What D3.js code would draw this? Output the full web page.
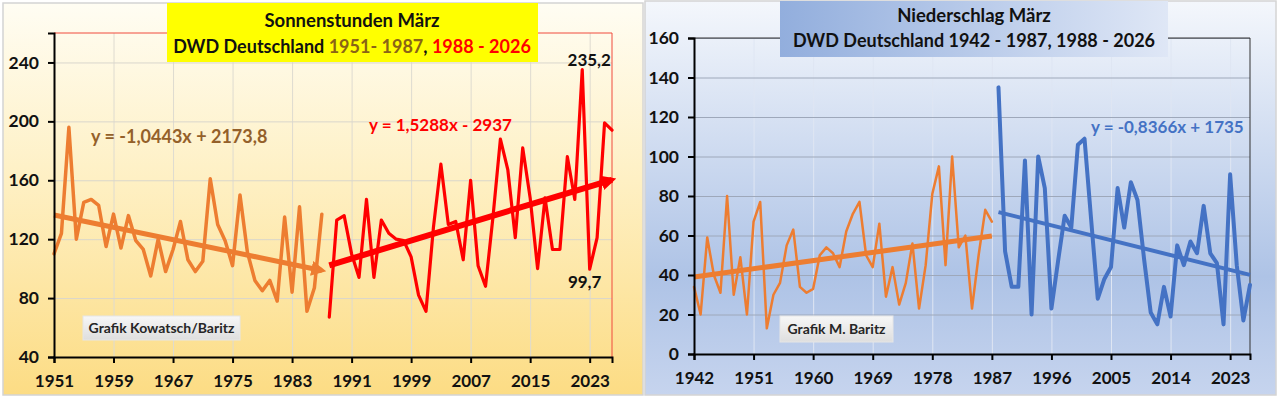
<!DOCTYPE html>
<html>
<head>
<meta charset="utf-8">
<script src="https://cdn.jsdelivr.net/npm/d3@7"></script>
<style>
  body { margin: 0; background: #fff; }
  svg { display: block; font-family: Lato, "Open Sans", sans-serif; font-weight: bold; }
</style>
</head>
<body>
<svg id="chart" width="1280" height="398"></svg>
<script>
// Sonnenstunden März (Stunden), DWD Deutschland
const sunYearsOld = d3.range(1951, 1988);
const sunOld = [110, 124, 196, 120, 145, 147, 143, 115, 137, 114, 136, 119, 113, 95, 120, 98, 113, 132, 106, 98,
  105, 161, 130, 119, 102, 150, 111, 92, 85, 92, 78, 135, 84, 142, 71, 87, 137];
const sunYearsNew = d3.range(1988, 2027);
const sunNew = [67, 133, 136, 110, 94, 147, 94, 133, 124, 120, 119, 108, 82, 71, 128, 171, 130, 132, 106, 160,
  102, 88, 135, 188, 167, 121, 182, 148, 100, 148, 113, 113, 176, 147, 235.2, 99.7, 121, 199, 194];

// Niederschlag März (l/m²), DWD Deutschland
const rainYearsOld = d3.range(1942, 1988);
const rainOld = [34, 20, 59, 40, 31, 80, 30, 49, 20, 67, 77, 13, 30, 36, 55, 63, 34, 31, 33, 50,
  54, 51, 44, 62, 71, 77, 50, 44, 66, 29, 44, 25, 36, 56, 23, 45, 81, 95, 45, 100,
  54, 60, 23, 50, 73, 67];
const rainYearsNew = d3.range(1988, 2027);
const rainNew = [135, 52, 34, 34, 98, 20, 100, 84, 23, 47, 70, 64, 106, 109, 68, 28, 38, 44, 84, 64,
  87, 78, 48, 21, 15, 34, 19, 55, 45, 57, 51, 75, 51, 46, 15, 91, 45, 17, 35];

// trend lines: [slope, intercept]
const sunTrendOld = [-1.0443, 2173.8];
const sunTrendNew = [1.5288, -2937];
const rainTrendOld = [0.46, -854.3];
const rainTrendNew = [-0.8366, 1735];

// axis ticks
const sunXTicks = [1951, 1959, 1967, 1975, 1983, 1991, 1999, 2007, 2015, 2023];
const sunYTicks = [40, 80, 120, 160, 200, 240];
const rainXTicks = [1942, 1951, 1960, 1969, 1978, 1987, 1996, 2005, 2014, 2023];
const rainYTicks = [0, 20, 40, 60, 80, 100, 120, 140, 160];

const svg = d3.select("#chart");
const defs = svg.append("defs");

function gradient(id, stops, horizontal) {
  const gr = defs.append("linearGradient").attr("id", id)
    .attr("x1", 0).attr("y1", 0)
    .attr("x2", horizontal ? 1 : 0).attr("y2", horizontal ? 0 : 1);
  stops.forEach(s => gr.append("stop").attr("offset", s[0]).attr("stop-color", s[1]));
}
gradient("bgSun", [[0, "#fffdf3"], [0.45, "#fef0c4"], [1, "#fcdc84"]]);
gradient("bgRain", [[0, "#f4f7fc"], [0.7, "#aec3e6"], [1, "#c6d4ee"]]);
gradient("titleRain", [[0, "#92aedd"], [1, "#dfe7f6"]], true);
gradient("creditBox", [[0, "#f7f7f7"], [1, "#dedede"]]);

function arrow(id, color) {
  defs.append("marker").attr("id", id)
    .attr("viewBox", "0 0 10 10").attr("refX", 7).attr("refY", 5)
    .attr("markerUnits", "userSpaceOnUse")
    .attr("markerWidth", 15).attr("markerHeight", 15)
    .attr("orient", "auto")
    .append("path").attr("d", "M0,0 L10,5 L0,10 z").attr("fill", color);
}
arrow("arrowOrange", "#ed7d31");
arrow("arrowRed", "#ff0000");

function drawPanel(p) {
  const g = svg.append("g");
  g.append("rect")
    .attr("x", p.box[0]).attr("y", p.box[1]).attr("width", p.box[2]).attr("height", p.box[3])
    .attr("fill", p.bg).attr("stroke", "#d4d4d4").attr("stroke-width", 1.5);

  const x = d3.scaleLinear().domain(p.xDomain).range([p.plot.left, p.plot.right]);
  const y = d3.scaleLinear().domain(p.yDomain).range([p.plot.bottom, p.plot.top]);
  const w = p.plot.right - p.plot.left;
  const h = p.plot.bottom - p.plot.top;

  // gridlines
  g.append("g").attr("transform", `translate(0,${p.plot.bottom})`)
    .call(d3.axisBottom(x).tickValues(p.xTicks.slice(1)).tickSize(-h).tickFormat(""))
    .call(a => a.select(".domain").remove())
    .selectAll("line").attr("stroke", p.vGrid).attr("stroke-width", 1);
  g.append("g").attr("transform", `translate(${p.plot.left},0)`)
    .call(d3.axisLeft(y).tickValues(p.yTicks.slice(1)).tickSize(-w).tickFormat(""))
    .call(a => a.select(".domain").remove())
    .selectAll("line").attr("stroke", p.hGrid).attr("stroke-width", 1);

  // top / right frame
  g.append("path")
    .attr("d", `M${p.plot.left},${p.plot.top}H${p.plot.right}V${p.plot.bottom}`)
    .attr("fill", "none").attr("stroke", p.frame).attr("stroke-width", 1);

  return { g, x, y };
}

function styleAxis(a, size) {
  a.select(".domain").attr("stroke", "#000").attr("stroke-width", 2);
  a.selectAll(".tick line").attr("stroke", "#000").attr("stroke-width", 2);
  a.selectAll("text").attr("fill", "#111").style("font-size", size + "px")
    .style("font-family", "Lato, sans-serif").style("font-weight", "bold");
}

function drawAxes(panel, p) {
  const { g, x, y } = panel;
  g.append("g").attr("transform", `translate(0,${p.plot.bottom})`)
    .call(d3.axisBottom(x).tickValues(p.xTicks).tickSize(6).tickPadding(12).tickFormat(d3.format("d")))
    .call(a => styleAxis(a, 17));
  g.append("g").attr("transform", `translate(${p.plot.left},0)`)
    .call(d3.axisLeft(y).tickValues(p.yTicks).tickSize(6).tickPadding(9))
    .call(a => styleAxis(a, 17.5));
}

function drawSeries(panel, years, values, color, width) {
  const line = d3.line().x((d, i) => panel.x(years[i])).y(d => panel.y(d));
  panel.g.append("path").datum(values)
    .attr("d", line).attr("fill", "none")
    .attr("stroke", color).attr("stroke-width", width)
    .attr("stroke-linejoin", "round").attr("stroke-linecap", "round");
}

function drawTrend(panel, years, coef, color, width, marker) {
  const ends = [years[0], years[years.length - 1]];
  const p = panel.g.append("path").datum(ends)
    .attr("d", d3.line().x(d => panel.x(d)).y(d => panel.y(coef[0] * d + coef[1])))
    .attr("fill", "none").attr("stroke", color).attr("stroke-width", width)
    .attr("stroke-linecap", "butt");
  if (marker) p.attr("marker-end", `url(#${marker})`);
}

function creditBox(g, x, y, w, h, label) {
  g.append("rect").attr("x", x).attr("y", y).attr("width", w).attr("height", h)
    .attr("fill", "url(#creditBox)").attr("stroke", "#e6e6e6");
  g.append("text").attr("x", x + w / 2).attr("y", y + h / 2 + 5)
    .attr("text-anchor", "middle").attr("fill", "#262626").style("font-size", "14px")
    .text(label);
}

// ---------- left: Sonnenstunden ----------
const sunCfg = {
  box: [3, 3, 640, 392], bg: "url(#bgSun)",
  plot: { left: 54, right: 612, top: 33, bottom: 357 },
  xDomain: [1951, 2026], yDomain: [40, 260],
  xTicks: sunXTicks, yTicks: sunYTicks,
  vGrid: "#dedbd0", hGrid: "#d9d6cc", frame: "#f04a3c"
};
const sun = drawPanel(sunCfg);
drawSeries(sun, sunYearsOld, sunOld, "#ed7d31", 3.5);
drawTrend(sun, sunYearsOld, sunTrendOld, "#ed7d31", 5, "arrowOrange");
drawSeries(sun, sunYearsNew, sunNew, "#ff0000", 3.2);
drawTrend(sun, sunYearsNew, sunTrendNew, "#ff0000", 6, "arrowRed");
drawAxes(sun, sunCfg);

sun.g.append("text").attr("x", 91).attr("y", 143).attr("fill", "#94602a")
  .style("font-size", "18px").text("y = -1,0443x + 2173,8");
sun.g.append("text").attr("x", 369).attr("y", 131).attr("fill", "#ff0000")
  .style("font-size", "17px").text("y = 1,5288x - 2937");
sun.g.append("text").attr("x", sun.x(2022) + 7).attr("y", sun.y(235.2) - 4)
  .attr("text-anchor", "middle").attr("fill", "#111").style("font-size", "17px").text("235,2");
sun.g.append("text").attr("x", sun.x(2023) - 5).attr("y", sun.y(99.7) + 19)
  .attr("text-anchor", "middle").attr("fill", "#111").style("font-size", "17px").text("99,7");
creditBox(sun.g, 83, 316, 157, 24, "Grafik Kowatsch/Baritz");

// title
sun.g.append("rect").attr("x", 167).attr("y", 3).attr("width", 371).attr("height", 59).attr("fill", "#ffff00");
sun.g.append("text").attr("x", 352).attr("y", 27).attr("text-anchor", "middle")
  .attr("fill", "#111").style("font-size", "18.5px").text("Sonnenstunden März");
const sunT2 = sun.g.append("text").attr("x", 352).attr("y", 53).attr("text-anchor", "middle")
  .style("font-size", "18px");
sunT2.append("tspan").attr("fill", "#111").text("DWD Deutschland ");
sunT2.append("tspan").attr("fill", "#8a6416").text("1951- 1987");
sunT2.append("tspan").attr("fill", "#111").text(", ");
sunT2.append("tspan").attr("fill", "#ff0000").text("1988 - 2026");

// ---------- right: Niederschlag ----------
const rainCfg = {
  box: [645, 1, 631, 394], bg: "url(#bgRain)",
  plot: { left: 694, right: 1250, top: 38, bottom: 354 },
  xDomain: [1942, 2026], yDomain: [0, 160],
  xTicks: rainXTicks, yTicks: rainYTicks,
  vGrid: "#dfe6f3", hGrid: "#9ea8ba", frame: "#333"
};
const rain = drawPanel(rainCfg);
drawSeries(rain, rainYearsOld, rainOld, "#ed7d31", 2.5);
drawTrend(rain, rainYearsOld, rainTrendOld, "#ed7d31", 5);
drawSeries(rain, rainYearsNew, rainNew, "#4472c4", 4);
drawTrend(rain, rainYearsNew, rainTrendNew, "#4472c4", 4);
drawAxes(rain, rainCfg);

rain.g.append("text").attr("x", 1091).attr("y", 133).attr("fill", "#4472c4")
  .style("font-size", "17px").text("y = -0,8366x + 1735");
creditBox(rain.g, 780, 316, 113, 26, "Grafik M. Baritz");

rain.g.append("rect").attr("x", 780).attr("y", 1).attr("width", 388).attr("height", 56).attr("fill", "url(#titleRain)");
rain.g.append("text").attr("x", 974).attr("y", 22).attr("text-anchor", "middle")
  .attr("fill", "#111").style("font-size", "18.5px").text("Niederschlag März");
rain.g.append("text").attr("x", 974).attr("y", 47).attr("text-anchor", "middle")
  .attr("fill", "#111").style("font-size", "18px").text("DWD Deutschland 1942 - 1987, 1988 - 2026");
</script>
</body>
</html>
